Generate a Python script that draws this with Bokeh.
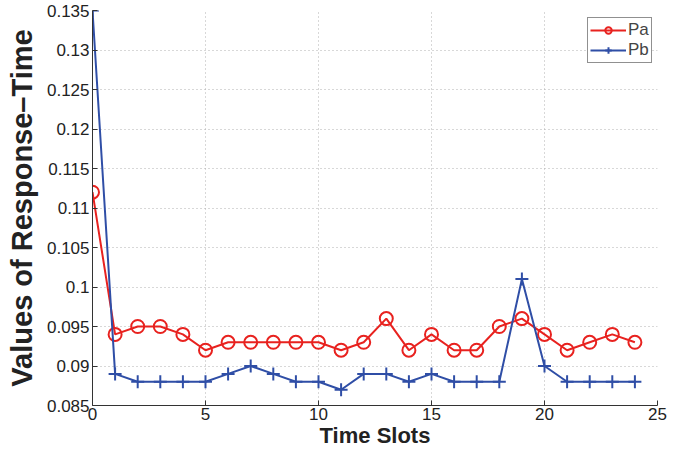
from bokeh.plotting import figure
from bokeh.models import FixedTicker, Range1d, Legend, LegendItem
from bokeh.embed import file_html
from bokeh.resources import INLINE

time_slots = list(range(25))
pa = [0.112, 0.094, 0.095, 0.095, 0.094, 0.092, 0.093, 0.093, 0.093, 0.093,
      0.093, 0.092, 0.093, 0.096, 0.092, 0.094, 0.092, 0.092, 0.095, 0.096,
      0.094, 0.092, 0.093, 0.094, 0.093]
pb = [0.135, 0.089, 0.088, 0.088, 0.088, 0.088, 0.089, 0.090, 0.089, 0.088,
      0.088, 0.087, 0.089, 0.089, 0.088, 0.089, 0.088, 0.088, 0.088, 0.101,
      0.090, 0.088, 0.088, 0.088, 0.088]
x_ticks = [0, 5, 10, 15, 20, 25]
y_ticks = [0.085, 0.09, 0.095, 0.1, 0.105, 0.11, 0.115, 0.12, 0.125, 0.13, 0.135]
y_tick_labels = ["0.085", "0.09", "0.095", "0.1", "0.105", "0.11", "0.115",
                 "0.12", "0.125", "0.13", "0.135"]

RED = "#e8221f"
BLUE = "#2f4ea6"
FONT = "Liberation Sans"

p = figure(width=667, height=450, output_backend="svg", toolbar_location=None,
           x_range=Range1d(0, 25), y_range=Range1d(0.085, 0.135),
           min_border_left=92, min_border_right=10, min_border_top=10,
           min_border_bottom=10)
p.outline_line_color = None

l1 = p.line(time_slots, pa, line_color=RED, line_width=2)
s1 = p.scatter(time_slots, pa, marker="circle", size=13, line_color=RED,
               fill_color=None, line_width=2)
l2 = p.line(time_slots, pb, line_color=BLUE, line_width=2)
s2 = p.scatter(time_slots, pb, marker="cross", size=13, line_color=BLUE,
               line_width=2)

p.xaxis.ticker = FixedTicker(ticks=x_ticks)
p.yaxis.ticker = FixedTicker(ticks=y_ticks)
p.yaxis.major_label_overrides = {t: s for t, s in zip(y_ticks, y_tick_labels)}

for ax in (p.xaxis[0], p.yaxis[0]):
    ax.axis_line_color = "#333333"
    ax.axis_line_width = 1
    ax.major_tick_line_color = "#333333"
    ax.major_tick_in = 5
    ax.major_tick_out = 0
    ax.minor_tick_line_color = None
    ax.major_label_text_font = FONT
    ax.major_label_text_font_size = "17px"
    ax.major_label_text_color = "#222222"
    ax.axis_label_text_font = FONT
    ax.axis_label_text_font_style = "bold"
    ax.axis_label_text_color = "#222222"

p.xaxis.axis_label = "Time Slots"
p.xaxis.axis_label_text_font_size = "22px"
p.xaxis.major_label_standoff = 2
p.xaxis.axis_label_standoff = 0
p.yaxis.axis_label = "Values of Response\u2013Time"
p.yaxis.axis_label_text_font_size = "29px"
p.yaxis.major_label_standoff = 3
p.yaxis.axis_label_standoff = 6

p.grid.grid_line_color = "#b0b0b0"
p.grid.grid_line_dash = "1 3"
p.grid.grid_line_width = 1

legend = Legend(items=[LegendItem(label="Pa", renderers=[l1, s1]),
                       LegendItem(label="Pb", renderers=[l2, s2])],
                location=(495, 342))
legend.border_line_color = "#222222"
legend.border_line_width = 1
legend.label_text_font = FONT
legend.label_text_font_size = "17px"
legend.glyph_width = 36
legend.glyph_height = 16
legend.label_height = 16
legend.padding = 2
legend.spacing = 0
legend.label_standoff = 2
legend.margin = 0
legend.background_fill_alpha = 1
p.add_layout(legend)

open("out.html", "w").write(file_html(p, INLINE))
